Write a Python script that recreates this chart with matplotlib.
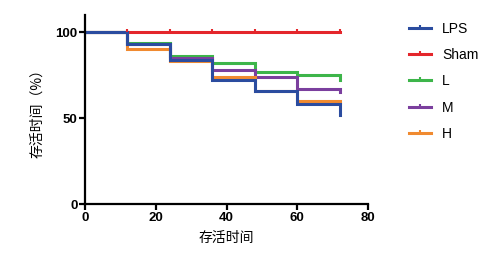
import matplotlib
matplotlib.use("Agg")
import matplotlib.pyplot as plt
from matplotlib.lines import Line2D

plt.rcParams['font.family'] = ['Liberation Sans', 'Noto Sans CJK SC', 'DejaVu Sans']

# survival data (hours, % alive)
times = [0, 12, 24, 36, 48, 60, 72]
lps = [100, 93, 84, 72, 66, 58, 52]
sham = [100, 100, 100, 100, 100, 100, 100]
low = [100, 94, 86, 82, 77, 75, 72]
mid = [100, 93, 85, 78, 74, 67, 65]
high = [100, 90, 83, 74, 66, 60, 59]

names = ["LPS", "Sham", "L", "M", "H"]
colors = {"LPS": "#2B4C9F", "Sham": "#E4262B", "L": "#3DB54A",
          "M": "#7B3F9E", "H": "#F08A30"}
series = {"LPS": lps, "Sham": sham, "L": low, "M": mid, "H": high}

fig = plt.figure(figsize=(4.9, 2.59), dpi=100)
ax = fig.add_axes([0.1735, 0.212, 0.5775, 0.73])

# draw order: Sham first, LPS on top
for name in ["Sham", "L", "M", "H", "LPS"]:
    ax.plot(times, series[name], drawstyle="steps-post",
            color=colors[name], lw=2.2, solid_joinstyle="miter")

# censor ticks on Sham
ax.plot(times[1:], sham[1:], ls="none", marker=2, ms=2.5, mew=1.5,
        color=colors["Sham"])

ax.set_xlim(0, 80)
ax.set_ylim(0, 110)
ax.set_xticks([0, 20, 40, 60, 80])
ax.set_yticks([0, 50, 100])
for s in ["top", "right"]:
    ax.spines[s].set_visible(False)
for s in ["left", "bottom"]:
    ax.spines[s].set_linewidth(1.6)
ax.tick_params(width=1.6, length=4, labelsize=9.5, pad=1.5)
for t in ax.get_xticklabels() + ax.get_yticklabels():
    t.set_fontweight("bold")

ax.set_xlabel("存活时间", fontsize=10, family=['Noto Sans CJK SC'], labelpad=5)
ax.set_ylabel("存活时间（%）", fontsize=10, family=['Noto Sans CJK SC'], labelpad=8)

handles = [Line2D([0], [0], color=colors[n], lw=2.2, marker=2, ms=2.5, mew=1.5)
           for n in names]
ax.legend(handles, names, loc="upper left", bbox_to_anchor=(1.1, 1.03),
          frameon=False, fontsize=10, handlelength=1.6, labelspacing=0.88,
          borderaxespad=0.5, handletextpad=0.8)

fig.savefig("out.png", dpi=100)
